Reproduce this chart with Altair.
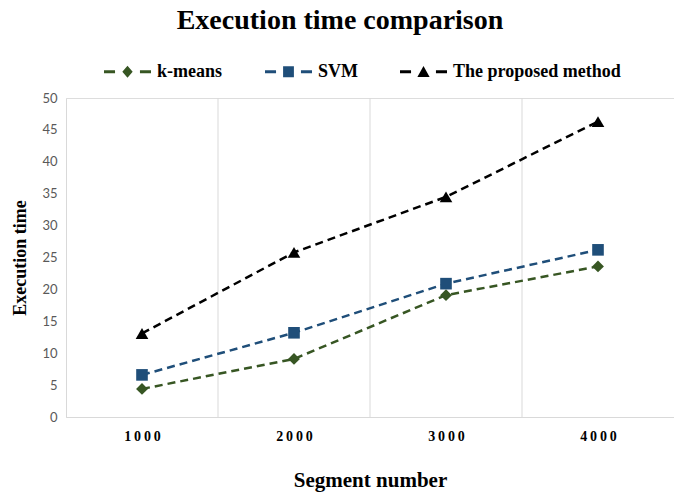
import altair as alt
import pandas as pd

segments = [1000, 2000, 3000, 4000]
series_names = ["k-means", "SVM", "The proposed method"]
kmeans = [4.4, 9.1, 19.1, 23.6]
svm = [6.6, 13.2, 20.9, 26.2]
proposed = [13.1, 25.8, 34.5, 46.3]
colors = ["#375623", "#1F4E79", "#000000"]
point_shapes = ["diamond", "square", "triangle-up"]
y_ticks = [0, 5, 10, 15, 20, 25, 30, 35, 40, 45, 50]

rows = []
for name, vals in zip(series_names, [kmeans, svm, proposed]):
    for s, v in zip(segments, vals):
        rows.append({"segment": s, "time": v, "series": name})
df = pd.DataFrame(rows)

# gridlines between categories (midpoints)
grid_df = pd.DataFrame({"g": [(a + b) / 2 for a, b in zip(segments[:-1], segments[1:])]})

serif = "Liberation Serif"
x_enc = alt.X("segment:Q", scale=alt.Scale(domain=[500, 4500], nice=False, zero=False),
              axis=alt.Axis(values=segments, format="d", grid=False, ticks=False,
                            domainColor="#d9d9d9", domainWidth=1,
                            labelFont=serif, labelFontWeight="bold", labelFontSize=14,
                            labelColor="#000000", labelPadding=12,
                            labelExpr="join(split(datum.label, ''), '\u2009')",
                            title="Segment number", titleFont=serif, titleFontWeight="bold",
                            titleFontSize=21, titleColor="#000000", titlePadding=26))
y_enc = alt.Y("time:Q", scale=alt.Scale(domain=[0, 50], nice=False),
              axis=alt.Axis(values=y_ticks, grid=False, ticks=False,
                            domainColor="#d9d9d9", domainWidth=1,
                            labelFont="Lato", labelFontSize=13, labelColor="#595959",
                            labelPadding=9,
                            title="Execution time", titleFont=serif, titleFontWeight="bold",
                            titleFontSize=18, titleColor="#000000", titlePadding=12))

color_scale = alt.Scale(domain=series_names, range=colors)

d = "M-1,-0.065H-0.53V0.065H-1Z M0.53,-0.065H1V0.065H0.53Z "
legend_paths = [
    d + "M0,-0.26L0.22,0L0,0.26L-0.22,0Z",
    d + "M-0.23,-0.23H0.23V0.23H-0.23Z",
    d + "M0,-0.25L0.26,0.22H-0.26Z",
]
leg = alt.Legend(title=None, orient="none", direction="horizontal",
                 legendX=38, legendY=-50,
                 symbolSize=2209, symbolOpacity=1, symbolStrokeWidth=0,
                 labelFont=serif, labelFontWeight="bold", labelFontSize=18,
                 labelColor="#000000", labelOffset=6, columnPadding=42, labelLimit=400)
color_enc = alt.Color("series:N", scale=color_scale, legend=leg)

grid = alt.Chart(grid_df).mark_rule(color="#d9d9d9", strokeWidth=1).encode(x="g:Q")

legend_layer = alt.Chart(df).mark_point(filled=True, opacity=0, size=10).encode(
    x=x_enc, y=y_enc,
    color=color_enc,
    shape=alt.Shape("series:N", scale=alt.Scale(domain=series_names, range=legend_paths), legend=leg),
)

lines = alt.Chart(df).mark_line(strokeDash=[8, 5], strokeWidth=2.5).encode(
    x=x_enc, y=y_enc,
    color=color_enc,
    detail="series:N",
)

point_layers = []
for name, shp, sz in zip(series_names, point_shapes, [140, 135, 160]):
    point_layers.append(
        alt.Chart(df).transform_filter(alt.datum.series == name)
        .mark_point(shape=shp, filled=True, size=sz, opacity=1)
        .encode(x=x_enc, y=y_enc, color=color_enc)
    )

chart = alt.layer(grid, legend_layer, lines, *point_layers).properties(
    width=608, height=319,
    title=alt.TitleParams("Execution time comparison", font=serif, fontSize=28,
                          fontWeight="bold", color="#000000", anchor="middle",
                          offset=13, dx=-30),
    autosize=alt.AutoSizeParams(type="none"),
    padding={"left": 66, "top": 98, "right": 0, "bottom": 77},
).configure_view(stroke=None).configure(background="white")

chart.save("out.html", embed_options={"renderer": "svg", "actions": False})
